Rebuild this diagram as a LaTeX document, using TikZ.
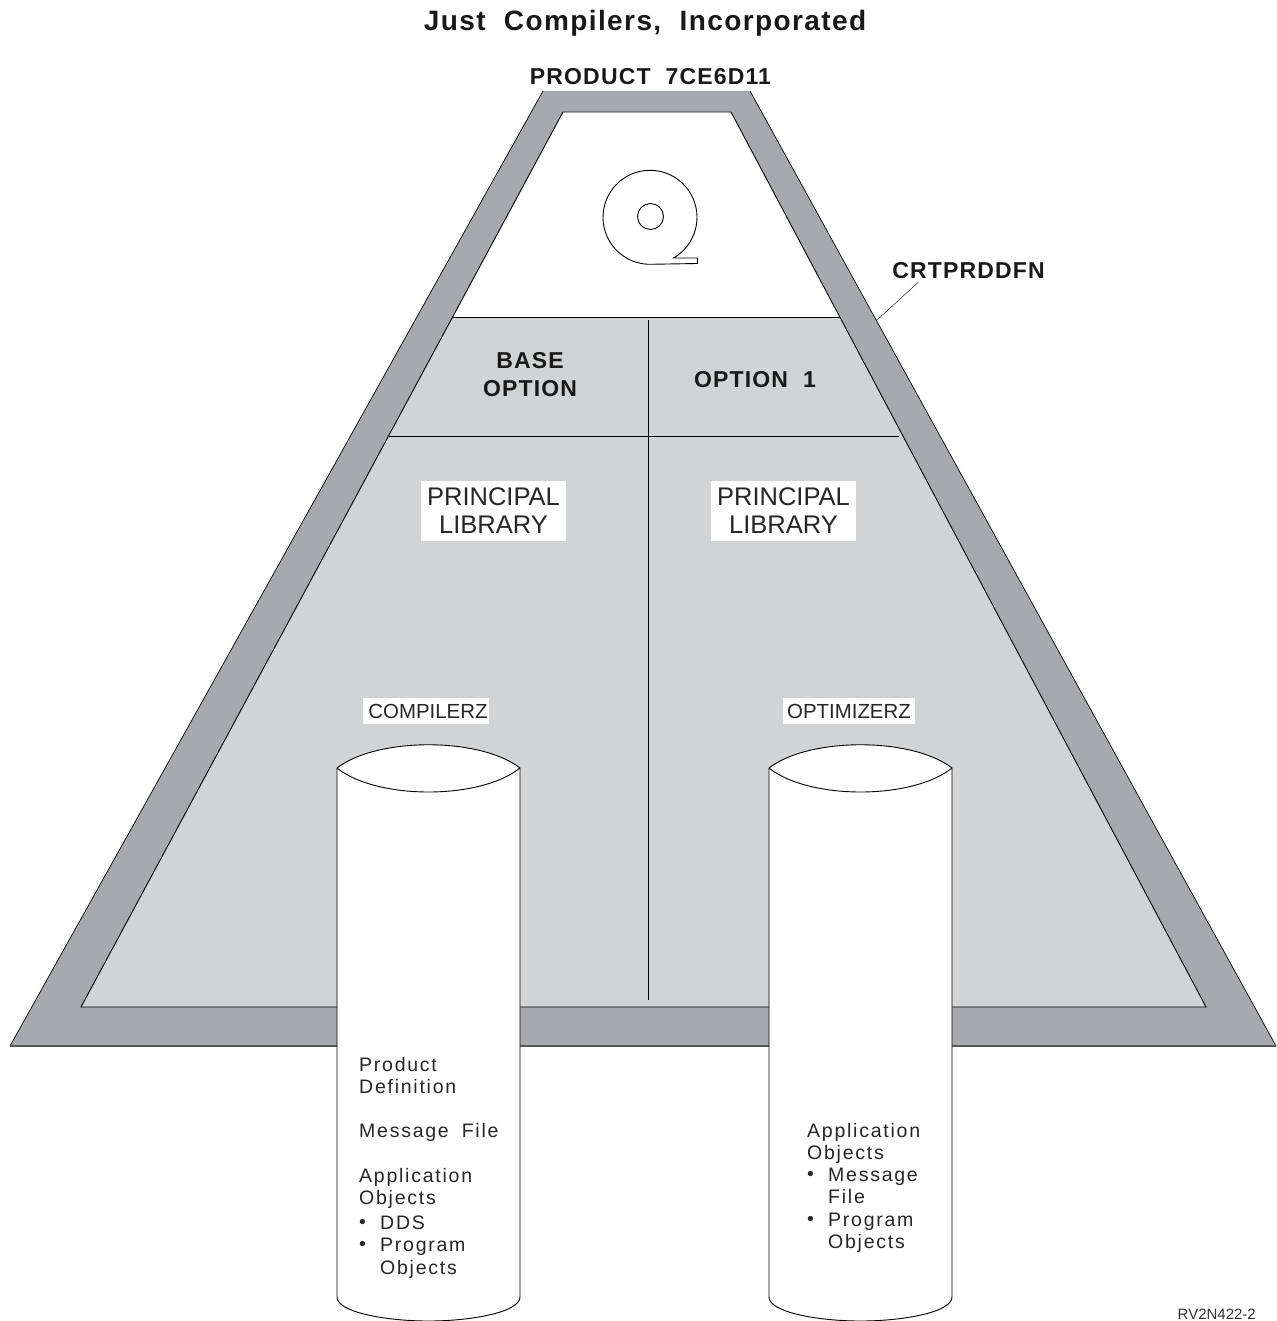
\documentclass[tikz,border=0pt]{standalone}
\usepackage{fontspec}
\setmainfont{Liberation Sans}
\newfontfamily\headfont[LetterSpace=5,WordSpace=2]{Liberation Sans Bold}
\newfontfamily\spacefont[LetterSpace=9,WordSpace=1.8]{Liberation Sans}
\definecolor{bandgray}{HTML}{A7A9AC}
\definecolor{panelgray}{HTML}{D1D3D4}
\tikzset{
    headlabel/.style={font=\headfont\fontsize{23}{28}\selectfont, align=center, inner sep=0pt, text=black!90},
    liblabel/.style={font=\fontsize{25.5}{28}\selectfont, align=center, fill=white, inner sep=0pt, minimum width=145pt, minimum height=60pt, text=black!85},
    drumlabel/.style={font=\fontsize{20.4}{22}\selectfont, fill=white, inner sep=0pt, minimum width=126pt, minimum height=26pt, text=black!85},
    drumtext/.style={font=\spacefont\fontsize{19.5}{22.2}\selectfont, align=left, anchor=north west, inner sep=0pt, text=black!85},
    rule/.style={line width=0.9pt},
}
\newcommand{\drumbullet}{\makebox[21pt][l]{\raisebox{1pt}{\textbullet}}}
\begin{document}
\begin{tikzpicture}[x=1pt,y=-1pt]
    \useasboundingbox (0,0) rectangle (1276,1321);

    % outer band and panels
    \fill[bandgray] (10,1046) -- (543,91) -- (750,91) -- (1276,1046) -- cycle;
    \draw[line width=0.7pt] (10,1046) -- (543,91);
    \draw[line width=0.7pt] (750,91) -- (1276,1046);
    \draw[black!65, line width=1.2pt] (10,1046) -- (1276,1046);
    \fill[panelgray] (81,1007) -- (563,112) -- (731,112) -- (1206,1007) -- cycle;
    \fill[white] (452.6,317) -- (563,112) -- (731,112) -- (839.8,317) -- cycle;
    \draw[rule] (81,1007) -- (563,112) -- (731,112) -- (1206,1007) -- cycle;
    \draw[rule] (452.6,317) -- (839.8,317);
    \draw[rule] (389,436) -- (899,436);
    \draw (648,320) -- (648,1000);

    % reel
    \draw[rule] (673.5,258) arc[start angle=60, end angle=-270, radius=47] -- (697.5,263.5) -- (697.5,258) -- cycle;
    \draw[rule] (650.5,216.5) circle[radius=13];

    % cylinders
    \foreach \x/\name in {337/compilerz, 769/optimizerz} {
        \draw[fill=white, rule] (\x,768) .. controls (\x+40,737) and (\x+143,737) .. (\x+183,768)
            -- (\x+183,1297) .. controls (\x+183,1312) and (\x+135,1321) .. (\x+91.5,1321)
            .. controls (\x+48,1321) and (\x,1312) .. (\x,1297) -- cycle;
        \draw[rule] (\x,768) .. controls (\x+40,800) and (\x+143,800) .. (\x+183,768);
    }

    % labels
    \node[headlabel, font=\headfont\fontsize{28}{30}\selectfont] (title) at (645,23) {Just Compilers, Incorporated};
    \node[headlabel] (product) at (650.5,76.5) {PRODUCT 7CE6D11};
    \node[headlabel] (crtprddfn) at (968.5,271) {CRTPRDDFN};
    \node[headlabel] (baseoption) at (530,375) {BASE\\OPTION};
    \node[headlabel] (optionone) at (755,379.5) {OPTION 1};
    \node[liblabel] (libleft) at (493.5,511) {PRINCIPAL\\LIBRARY};
    \node[liblabel] (libright) at (783.5,511) {PRINCIPAL\\LIBRARY};
    \node[drumlabel] (compilerz) at (426,711) {\hspace*{4pt}COMPILERZ};
    \node[drumlabel, minimum width=132pt] (optimizerz) at (849,711) {OPTIMIZERZ};
    \node[drumtext] (drumleft) at (359,1057) {Product\\Definition\\[22.2pt]Message File\\[22.2pt]Application\\Objects\\[3pt]\drumbullet DDS\\\drumbullet Program\\\hspace*{21pt}Objects};
    \node[drumtext] (drumright) at (807,1123) {Application\\Objects\\\drumbullet Message\\\hspace*{21pt}File\\\drumbullet Program\\\hspace*{21pt}Objects};
    \node[font=\fontsize{15}{16}\selectfont, inner sep=0pt, anchor=east, text=black!80] (figid) at (1256,1314) {RV2N422-2};

    % leader
    \coordinate (bandedge) at (877,320);
    \draw (crtprddfn.south west) ++(26,3) -- (bandedge);
\end{tikzpicture}
\end{document}
